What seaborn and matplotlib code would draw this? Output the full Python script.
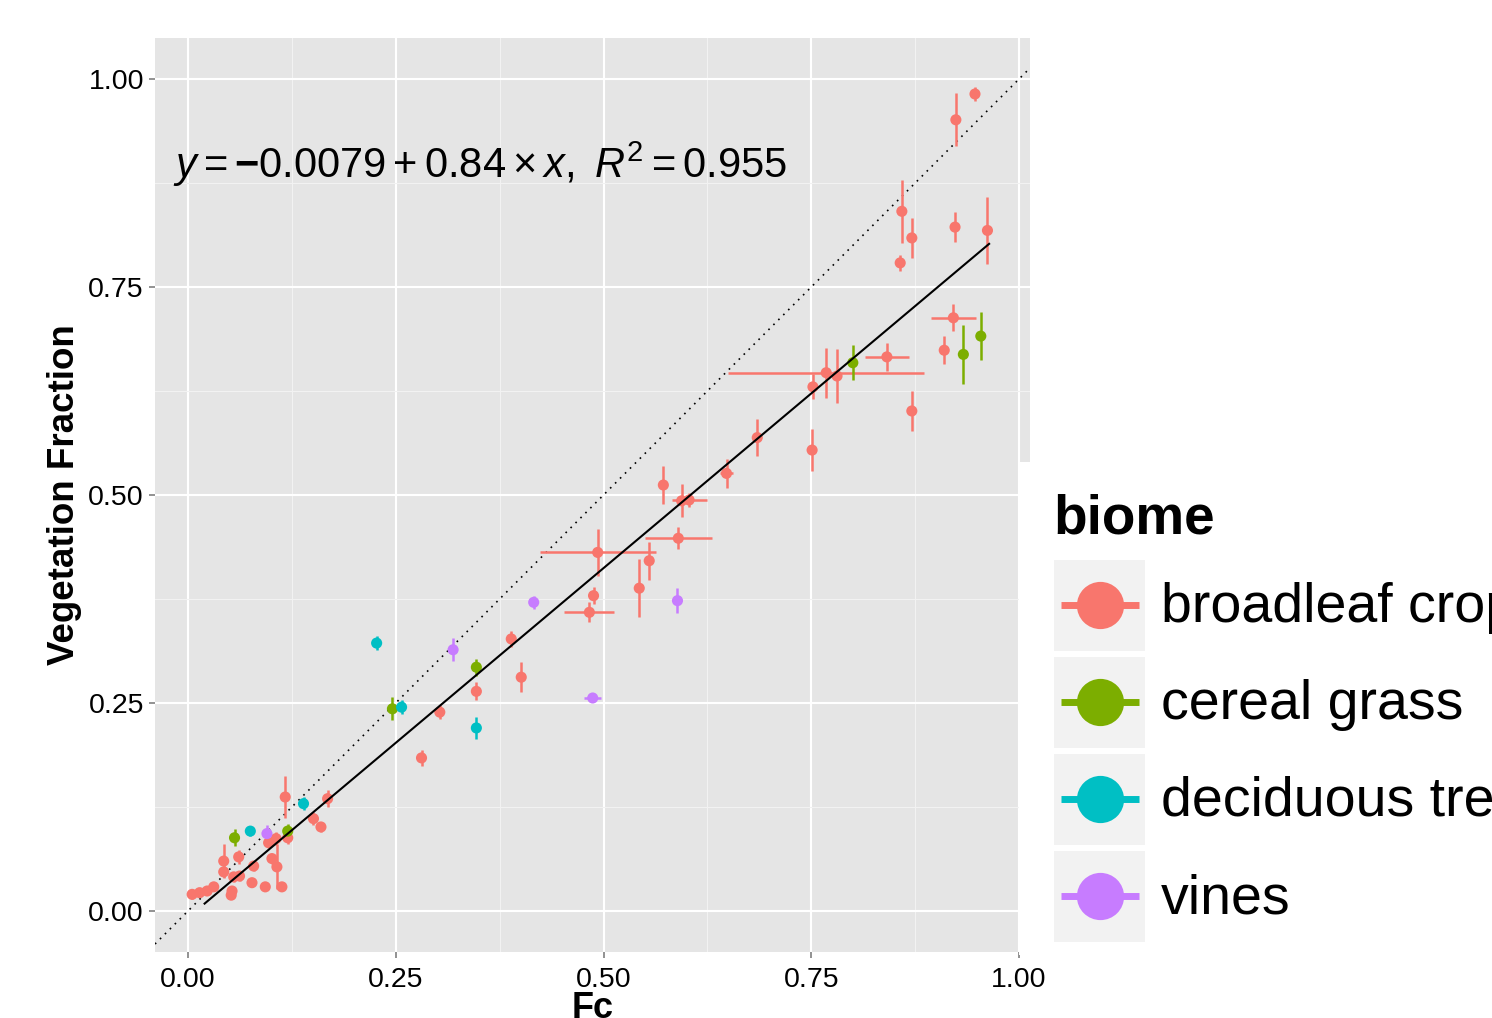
import numpy as np
import pandas as pd
import matplotlib
matplotlib.use("Agg")
import matplotlib.pyplot as plt
import seaborn as sns
from matplotlib.patches import Rectangle
from matplotlib.lines import Line2D

# ---------------- data ----------------
biomes = ["broadleaf crop", "cereal grass", "deciduous tree", "vines"]
biome_colors = ["#F8766D", "#7CAE00", "#00BFC4", "#C77CFF"]

bc_fc = [0.947, 0.924, 0.859, 0.871, 0.923, 0.962, 0.857, 0.921, 0.910, 0.841,
         0.871, 0.752, 0.768, 0.781, 0.685, 0.751, 0.648, 0.572, 0.594, 0.603,
         0.590, 0.493, 0.555, 0.543, 0.488, 0.483, 0.389, 0.401, 0.347, 0.303,
         0.281, 0.117, 0.168, 0.151, 0.160, 0.120, 0.106, 0.097, 0.043, 0.061,
         0.079, 0.043, 0.062, 0.055, 0.101, 0.107, 0.077, 0.093, 0.113, 0.053,
         0.052, 0.005, 0.014, 0.023, 0.031]
bc_vf = [0.982, 0.951, 0.841, 0.809, 0.822, 0.818, 0.779, 0.713, 0.674, 0.666,
         0.601, 0.630, 0.647, 0.643, 0.569, 0.554, 0.526, 0.512, 0.493, 0.494,
         0.448, 0.431, 0.421, 0.388, 0.379, 0.359, 0.327, 0.281, 0.264, 0.239,
         0.184, 0.137, 0.135, 0.111, 0.101, 0.088, 0.087, 0.082, 0.060, 0.065,
         0.054, 0.047, 0.042, 0.041, 0.063, 0.053, 0.034, 0.029, 0.029, 0.024,
         0.019, 0.020, 0.022, 0.024, 0.029]
bc_fc_err = [0, 0, 0, 0, 0, 0, 0, 0.027, 0, 0.026,
             0, 0, 0.118, 0, 0, 0, 0.008, 0, 0, 0.021,
             0.040, 0.070, 0, 0, 0, 0.030, 0, 0, 0, 0,
             0, 0, 0, 0, 0, 0, 0, 0, 0, 0,
             0, 0, 0, 0, 0, 0, 0, 0, 0, 0,
             0, 0, 0, 0, 0]
bc_vf_err = [0.008, 0.032, 0.038, 0.024, 0.018, 0.040, 0.010, 0.016, 0.017, 0.017,
             0.024, 0.015, 0.030, 0.033, 0.022, 0.025, 0.017, 0.023, 0.020, 0.008,
             0.013, 0.028, 0.023, 0.035, 0.010, 0.012, 0.010, 0.018, 0.011, 0.008,
             0.010, 0.025, 0.010, 0.008, 0.006, 0.008, 0.008, 0.006, 0.020, 0.008,
             0.006, 0.006, 0.006, 0.006, 0.006, 0.027, 0.005, 0.005, 0.005, 0.005,
             0.005, 0.005, 0.005, 0.005, 0.005]

cg_fc = [0.800, 0.933, 0.954, 0.347, 0.246, 0.056, 0.120]
cg_vf = [0.659, 0.669, 0.691, 0.293, 0.243, 0.088, 0.096]
cg_fc_err = [0, 0, 0, 0, 0, 0, 0]
cg_vf_err = [0.021, 0.035, 0.029, 0.010, 0.014, 0.010, 0.008]

dt_fc = [0.227, 0.347, 0.257, 0.139, 0.075]
dt_vf = [0.322, 0.220, 0.245, 0.129, 0.096]
dt_fc_err = [0, 0, 0, 0, 0]
dt_vf_err = [0.008, 0.013, 0.008, 0.008, 0.006]

vi_fc = [0.416, 0.589, 0.487, 0.319, 0.095]
vi_vf = [0.371, 0.373, 0.256, 0.314, 0.093]
vi_fc_err = [0, 0, 0.010, 0, 0]
vi_vf_err = [0.008, 0.015, 0.005, 0.014, 0.010]

fit_intercept = -0.0079
fit_slope = 0.84
fit_r2 = 0.955
fit_x_range = [0.020, 0.964]

x_ticks = [0.00, 0.25, 0.50, 0.75, 1.00]
y_ticks = [0.00, 0.25, 0.50, 0.75, 1.00]
x_tick_labels = ["0.00", "0.25", "0.50", "0.75", "1.00"]
y_tick_labels = ["0.00", "0.25", "0.50", "0.75", "1.00"]

frames = []
for name, fx, vy, fe, ve in [
    ("broadleaf crop", bc_fc, bc_vf, bc_fc_err, bc_vf_err),
    ("cereal grass", cg_fc, cg_vf, cg_fc_err, cg_vf_err),
    ("deciduous tree", dt_fc, dt_vf, dt_fc_err, dt_vf_err),
    ("vines", vi_fc, vi_vf, vi_fc_err, vi_vf_err),
]:
    frames.append(pd.DataFrame({"Fc": fx, "VF": vy, "Fc_err": fe, "VF_err": ve, "biome": name}))
df = pd.concat(frames, ignore_index=True)
palette = dict(zip(biomes, biome_colors))

# ---------------- figure ----------------
W, H = 1492, 1018
plt.rcParams["font.family"] = ["Liberation Sans", "DejaVu Sans"]
plt.rcParams["mathtext.fontset"] = "custom"
plt.rcParams["mathtext.rm"] = "Liberation Sans"
plt.rcParams["mathtext.it"] = "Liberation Sans:italic"
plt.rcParams["mathtext.bf"] = "Liberation Sans:bold"

fig = plt.figure(figsize=(W / 100, H / 100), dpi=100)
fig.patch.set_facecolor("white")
ax = fig.add_axes([155 / W, (H - 952) / H, (1030 - 155) / W, (952 - 38) / H])
ax.set_facecolor("#E5E5E5")
for s in ax.spines.values():
    s.set_visible(False)

ax.set_xlim(-0.0397, 1.0132)
ax.set_ylim(-0.0493, 1.0493)

ax.set_xticks(x_ticks)
ax.set_xticklabels(x_tick_labels)
ax.set_yticks(y_ticks)
ax.set_yticklabels(y_tick_labels)
ax.set_xticks([0.125, 0.375, 0.625, 0.875], minor=True)
ax.set_yticks([0.125, 0.375, 0.625, 0.875], minor=True)
ax.grid(which="major", color="white", lw=1.5, zorder=0)
ax.grid(which="minor", color="#F2F2F2", lw=0.8, zorder=0)
ax.set_axisbelow(True)
ax.tick_params(which="major", length=4, width=1.2, color="#7F7F7F",
               labelsize=20.5, labelcolor="black", pad=4)
ax.tick_params(axis="x", which="major", pad=7)
ax.tick_params(which="minor", length=0)

# 1:1 line
ax.axline((0, 0), slope=1, color="black", lw=1.2, linestyle=(0, (1, 3.2)), zorder=1)

# error bars
for _, r in df.iterrows():
    c = palette[r["biome"]]
    ax.errorbar(r["Fc"], r["VF"], xerr=r["Fc_err"] if r["Fc_err"] > 0 else None,
                yerr=r["VF_err"], fmt="none", ecolor=c, elinewidth=1.8, capsize=0, zorder=2)

sns.scatterplot(data=df, x="Fc", y="VF", hue="biome", hue_order=biomes, palette=palette,
                s=64, linewidth=0, legend=False, ax=ax, zorder=3)

# regression line
xfit = np.array(fit_x_range)
ax.plot(xfit, fit_intercept + fit_slope * xfit, color="black", lw=1.5, zorder=4)

ax.text(-0.0175, 0.897,
        r"$y=\mathbf{-}0.0079+0.84\times x,\ R^2=0.955$",
        fontsize=30, ha="left", va="center", zorder=5)

ax.set_xlabel("Fc", fontsize=26, fontweight="bold", labelpad=-2)
ax.set_ylabel("Vegetation Fraction", fontsize=26.5, fontweight="bold")
ax.yaxis.set_label_coords((82 - 155) / 875, 0.5)

# ---------------- legend (overlay) ----------------
ov = fig.add_axes([0, 0, 1, 1], zorder=10)
ov.set_xlim(0, W)
ov.set_ylim(H, 0)
ov.axis("off")
ov.patch.set_alpha(0)
ov.add_patch(Rectangle((1019, 462), W - 1019, 955 - 462, facecolor="white", edgecolor="none"))
ov.text(1053, 533, "biome", fontsize=39.5, fontweight="bold", ha="left", va="baseline")
for i, (name, col) in enumerate(zip(biomes, biome_colors)):
    cy = 605 + i * 97
    ov.add_patch(Rectangle((1054, cy - 45), 91, 91, facecolor="#F2F2F2", edgecolor="none"))
    ov.add_line(Line2D([1061, 1139], [cy, cy], color=col, lw=5, solid_capstyle="butt"))
    ov.add_line(Line2D([1100], [cy], marker="o", markersize=34, color=col,
                       markeredgewidth=0, linestyle="none"))
    ov.text(1161, cy + 3, name, fontsize=40, ha="left", va="center")

fig.savefig("out.png", dpi=100)
